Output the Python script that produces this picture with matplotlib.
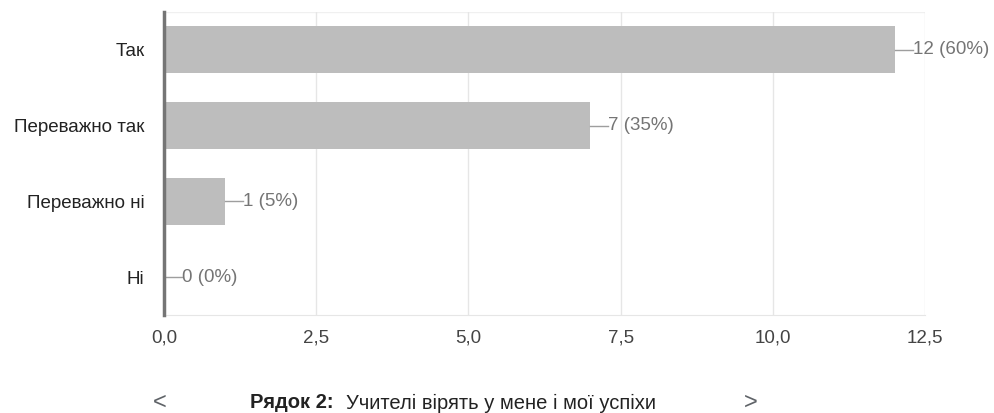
import matplotlib.pyplot as plt

plt.rcParams['font.family'] = ['Liberation Sans', 'DejaVu Sans']

categories = ['Так', 'Переважно так', 'Переважно ні', 'Ні']
counts = [12, 7, 1, 0]
percents = [60, 35, 5, 0]
xticks = [0, 2.5, 5.0, 7.5, 10.0, 12.5]
xtick_labels = ['0,0', '2,5', '5,0', '7,5', '10,0', '12,5']

fig = plt.figure(figsize=(9.94, 4.13), dpi=100)
ax = fig.add_axes([0.165, 0.237, 0.7656, 0.734])

y = list(range(len(categories)))
ax.barh(y, counts, height=0.62, color='#bdbdbd', zorder=2)

# value labels with short leader lines
for yi, c, p in zip(y, counts, percents):
    ax.plot([c, c + 0.3], [yi, yi], color='#9e9e9e', lw=1, zorder=3)
    ax.text(c + 0.3, yi, f'{c} ({p}%)', va='center', ha='left',
            fontsize=13.5, color='#757575', zorder=3)

ax.set_xlim(0, 12.5)
ax.set_ylim(3.5, -0.5)
ax.set_yticks(y)
ax.set_yticklabels(categories, fontsize=13.5, color='#222222')
ax.set_xticks(xticks)
ax.set_xticklabels(xtick_labels, fontsize=13.5, color='#444444')
ax.tick_params(axis='y', length=0, pad=14)
ax.tick_params(axis='x', length=0, pad=10)

ax.grid(axis='x', color='#e6e6e6', lw=1, zorder=0)
for s in ['top', 'right']:
    ax.spines[s].set_visible(False)
ax.spines['bottom'].set_color('#e6e6e6')
ax.spines['left'].set_color('#757575')
ax.spines['left'].set_linewidth(2.5)
ax.spines['left'].set_zorder(4)
ax.axhline(-0.5, color='#f0f0f0', lw=1, zorder=0)

# row caption with navigation arrows
cy = 1 - 403 / 413
fig.text(160 / 994, cy, '<', fontsize=17, color='#5f6368', va='center', ha='center')
fig.text(751 / 994, cy, '>', fontsize=17, color='#5f6368', va='center', ha='center')
fig.text(250 / 994, cy, 'Рядок 2:', fontsize=14.5, weight='bold',
         color='#222222', va='center', ha='left')
fig.text(346 / 994, cy, 'Учителі вірять у мене і мої успіхи', fontsize=14.5,
         color='#222222', va='center', ha='left')

fig.savefig('out.png', dpi=100)
